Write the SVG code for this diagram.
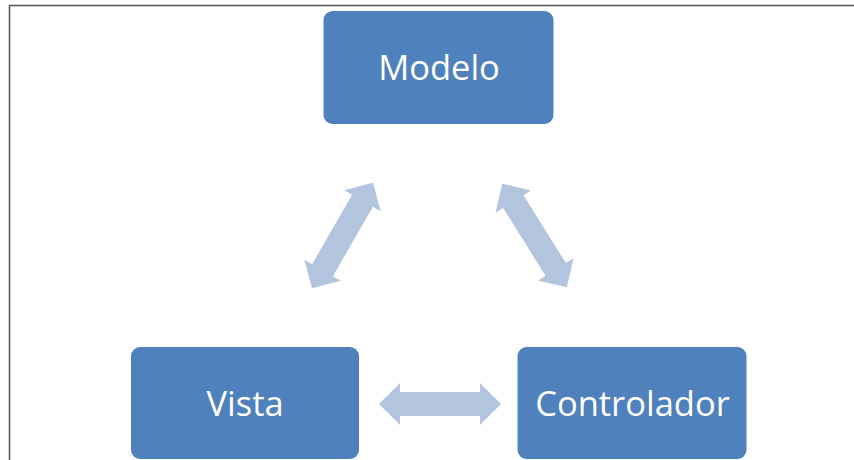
<svg xmlns="http://www.w3.org/2000/svg" width="854" height="460" viewBox="0 0 854 460">
<defs>
<style>
.box{fill:#4F81BD;}
.lbl{fill:#FFFFFF;font-family:"Open Sans","Liberation Sans",sans-serif;font-size:34.5px;text-anchor:middle;}
.arr{fill:#B3C4DE;}
</style>
<polygon id="dbl" points="-61,0 -40,-21 -40,-12 40,-12 40,-21 61,0 40,21 40,12 -40,12 -40,21"/>
</defs>
<rect width="854" height="460" fill="#FFFFFF"/>
<path d="M9.5,460 V5.5 H854" fill="none" stroke="#555555" stroke-width="1.5"/>
<g id="connectors" class="arr">
<use href="#dbl" transform="translate(440,404)"/>
<use href="#dbl" transform="translate(342.5,235.5) rotate(-60)"/>
<use href="#dbl" transform="translate(534.5,235.5) rotate(58)"/>
</g>
<g id="modelo">
<rect class="box" x="323.5" y="11" width="230" height="113" rx="9"/>
<text class="lbl" x="439" y="80">Modelo</text>
</g>
<g id="vista">
<rect class="box" x="131" y="347" width="228" height="112" rx="9"/>
<text class="lbl" x="245" y="416">Vista</text>
</g>
<g id="controlador">
<rect class="box" x="517.5" y="347" width="229" height="112" rx="9"/>
<text class="lbl" x="632.5" y="416">Controlador</text>
</g>
</svg>
